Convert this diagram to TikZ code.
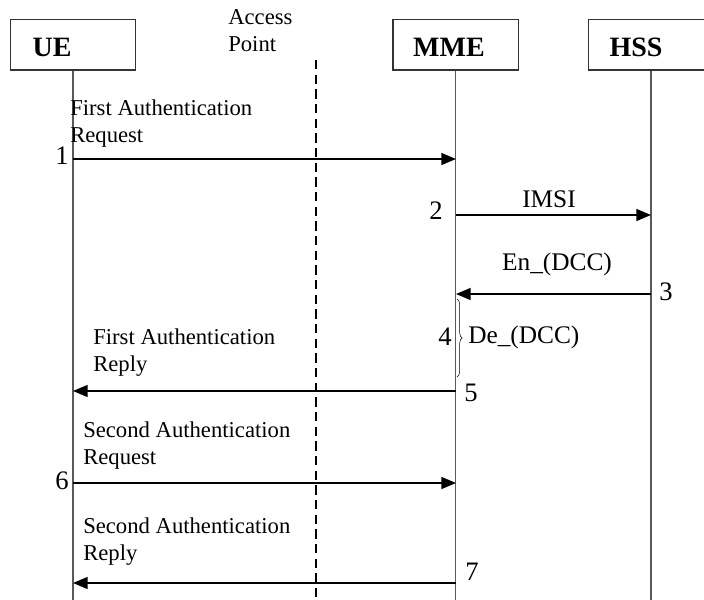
\documentclass[tikz,border=0pt]{standalone}
\usepackage{fontspec}
\setmainfont{Liberation Serif}
\usetikzlibrary{arrows.meta,decorations.pathreplacing}
\begin{document}
\begin{tikzpicture}[x=0.75pt,y=-0.75pt,
    box/.style={draw=black!80, line width=1pt, minimum width=94pt, minimum height=38pt, inner sep=0pt},
    life/.style={draw=black!65, line width=1pt},
    msg/.style={line width=1.1pt, -{Triangle[length=11pt,width=9pt]}},
    txt/.style={font=\fontsize{17}{20.25}\selectfont, align=left, anchor=north west, inner sep=0pt},
    big/.style={font=\fontsize{19}{20}\selectfont, inner sep=0pt},
    num/.style={font=\fontsize{20}{20}\selectfont, inner sep=0pt},
    who/.style={font=\fontsize{21}{21}\selectfont\bfseries, inner sep=0pt}]
    \useasboundingbox (0,0) rectangle (704,600);
    \clip (0,0) rectangle (704,600);
    \coordinate (bottom) at (0,600);

    \node[box] (ue) at (73,44.5) {};
    \node[box] (mme) at (455.5,44.5) {};
    \node[box] (hss) at (651,44.5) {};
    \node[who] (ue-lbl) at (52,47) {UE};
    \node[who] (mme-lbl) at (449,47) {MME};
    \node[who] (hss-lbl) at (636,47) {HSS};
    \node[txt] (ap-lbl) at (228,9) {Access\\Point};

    \foreach \n in {ue,mme,hss}
       \draw[life] (\n.south) -- (\n.south |- bottom);
    \coordinate (ap) at (316,60);
    \draw[line width=1.6pt, dash pattern=on 7pt off 4pt] (ap) -- (ap |- bottom);

    \foreach \i/\y in {1/159, 2/215, 3/294, 5/391, 6/483, 7/583} {
       \coordinate (ue-\i) at (73,\y);
       \coordinate (mme-\i) at (456,\y);
       \coordinate (hss-\i) at (651,\y);
    }
    \draw[msg] (ue-1) -- (mme-1);
    \draw[msg] (mme-2) -- (hss-2);
    \draw[msg] (hss-3) -- (mme-3);
    \draw[msg] (mme-5) -- (ue-5);
    \draw[msg] (ue-6) -- (mme-6);
    \draw[msg] (mme-7) -- (ue-7);

    \coordinate (br-top) at (457,299);
    \coordinate (br-bot) at (457,377);
    \draw[decorate, decoration={brace, amplitude=4pt}] (br-top) -- (br-bot);

    \node[txt] (req1) at (70,100) {First Authentication\\Request};
    \node[big, anchor=base] (imsi) at (549,207) {IMSI};
    \node[big, anchor=base] (enc) at (557,270) {En\_(DCC)};
    \node[big, anchor=base west] (dec) at (468,343) {De\_(DCC)};
    \node[txt] (rep1) at (93,329) {First Authentication\\Reply};
    \node[txt] (req2) at (83,422) {Second Authentication\\Request};
    \node[txt] (rep2) at (83,517) {Second Authentication\\Reply};

    \node[num] (n1) at (62,156) {1};
    \node[num] (n2) at (436,211) {2};
    \node[num] (n3) at (666,292) {3};
    \node[num] (n4) at (445,337) {4};
    \node[num] (n5) at (471,393) {5};
    \node[num] (n6) at (62,481) {6};
    \node[num] (n7) at (472,572) {7};
\end{tikzpicture}
\end{document}
